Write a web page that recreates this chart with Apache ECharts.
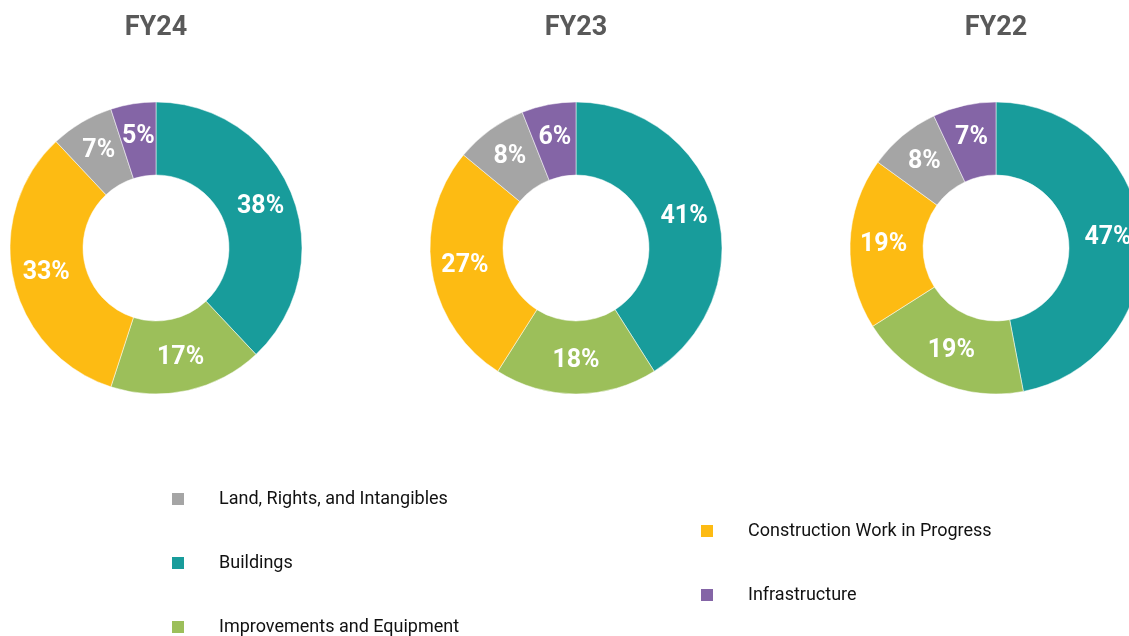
<!DOCTYPE html>
<html>
<head>
<meta charset="utf-8">
<script src="https://cdn.jsdelivr.net/npm/echarts@6/dist/echarts.min.js"></script>
<style>
  html, body { margin: 0; padding: 0; background: #fff; }
  #chart { width: 1129px; height: 636px; }
</style>
</head>
<body>
<div id="chart"></div>
<script>
// 数据
const categories = ['Buildings', 'Improvements and Equipment', 'Construction Work in Progress', 'Land, Rights, and Intangibles', 'Infrastructure']
const years = ['FY24', 'FY23', 'FY22']
const fy24 = [38, 17, 33, 7, 5]
const fy23 = [41, 18, 27, 8, 6]
const fy22 = [47, 19, 19, 8, 7]
const legendLeft = ['Land, Rights, and Intangibles', 'Buildings', 'Improvements and Equipment']
const legendRight = ['Construction Work in Progress', 'Infrastructure']

const colors = ['#189C9B', '#9CBF5A', '#FDBB13', '#A5A5A5', '#8465A6']
const font = "Roboto, 'Liberation Sans', sans-serif"
const centersX = [156, 576, 996]

const chart = echarts.init(document.getElementById('chart'))

const buildPie = (values, idx) => ({
  type: 'pie',
  name: years[idx],
  center: [centersX[idx], 248],
  radius: [73, 146],
  startAngle: 90,
  clockwise: true,
  animation: false,
  emphasis: { scale: false },
  itemStyle: { borderColor: '#fff', borderWidth: 0.5 },
  label: {
    show: true,
    position: 'inside',
    formatter: '{c}%',
    color: '#fff',
    fontFamily: font,
    fontWeight: 'bold',
    fontSize: 25
  },
  labelLine: { show: false },
  data: categories.map((c, i) => ({ name: c, value: values[i] }))
})

// 图例：每一项单独定位
const legendItem = (name, x, y) => ({
  data: [name],
  left: x - 5,
  top: y - 14,
  icon: 'rect',
  itemWidth: 14,
  itemHeight: 14,
  selectedMode: false,
  textStyle: {
    color: '#111',
    fontFamily: font,
    fontSize: 18,
    lineHeight: 20,
    padding: [0, 0, 0, 29]
  }
})

const option = {
  color: colors,
  title: years.map((y, i) => ({
    text: y,
    left: centersX[i] - 5,
    top: 10,
    textAlign: 'center',
    textStyle: {
      color: '#595959',
      fontFamily: font,
      fontWeight: 'bold',
      fontSize: 27
    }
  })),
  legend: [
    ...legendLeft.map((n, i) => legendItem(n, 170, 498 + i * 64)),
    ...legendRight.map((n, i) => legendItem(n, 699, 530 + i * 64))
  ],
  series: [buildPie(fy24, 0), buildPie(fy23, 1), buildPie(fy22, 2)]
}

chart.setOption(option)
</script>
</body>
</html>
